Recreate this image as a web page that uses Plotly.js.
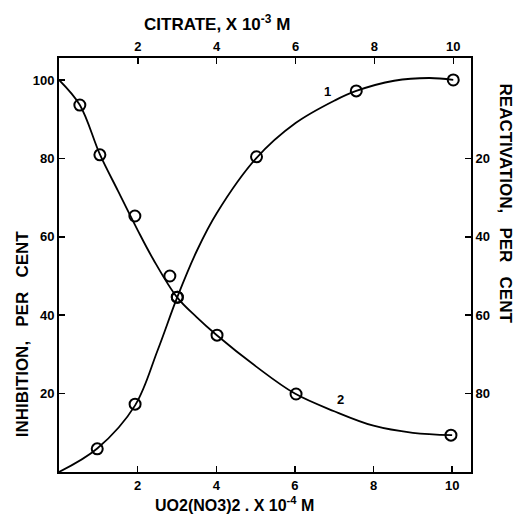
<!DOCTYPE html>
<html><head><meta charset="utf-8">
<script src="https://cdn.plot.ly/plotly-3.0.1.min.js"></script>
<style>html,body{margin:0;padding:0;background:#fff}</style>
</head><body>
<div id="chart" style="width:522px;height:516px"></div>
<script>
// Curve 2: inhibition vs UO2(NO3)2 (x10^-4 M), bottom axis
const uo2Points = [0.53, 1.04, 1.93, 2.82, 3.01, 4.02, 6.03, 9.97];
const inhibitionPoints = [93.6, 80.9, 65.3, 50.0, 44.6, 34.9, 19.9, 9.4];
const uo2Curve = [0, 0.53, 1.04, 1.5, 2.0, 2.4, 3.0, 3.5, 4.0, 5.0, 6.0, 7.0, 8.0, 9.0, 10.0];
const inhibitionCurve = [100, 93.6, 81, 71.7, 61.7, 54.2, 44.6, 39.5, 35, 27, 20, 15.5, 11.8, 10, 9.4];

// Curve 1: vs citrate (x10^-3 M), top axis
const citratePoints = [0.97, 1.93, 3.0, 5.01, 7.54, 10.0];
const curve1Points = [5.9, 17.3, 44.6, 80.4, 97.2, 100];
const citrateCurve = [0, 0.97, 1.93, 2.5, 3.0, 3.5, 4.0, 5.0, 6.0, 7.0, 7.54, 8.5, 9.4, 10.0];
const curve1Curve = [0, 6, 17, 31, 44.6, 56.5, 66, 80, 89, 94.8, 97.2, 99.8, 100.5, 100];

const xTicks = [2, 4, 6, 8, 10];
const leftTicks = [20, 40, 60, 80, 100];
const rightTicks = [20, 40, 60, 80];

const fontFam = 'Liberation Sans, Arial, sans-serif';
const lineStyle = {color: '#000', width: 1.8, shape: 'spline', smoothing: 1};
const markerStyle = {symbol: 'circle-open', size: 11, color: '#000', line: {width: 2, color: '#000'}};

const data = [
  {x: uo2Curve, y: inhibitionCurve, xaxis: 'x', yaxis: 'y', mode: 'lines', line: lineStyle, hoverinfo: 'skip'},
  {x: uo2Points, y: inhibitionPoints, xaxis: 'x', yaxis: 'y', mode: 'markers', marker: markerStyle},
  {x: citrateCurve, y: curve1Curve, xaxis: 'x2', yaxis: 'y', mode: 'lines', line: lineStyle, hoverinfo: 'skip'},
  {x: citratePoints, y: curve1Points, xaxis: 'x2', yaxis: 'y', mode: 'markers', marker: markerStyle},
  {x: [0], y: [50], xaxis: 'x', yaxis: 'y2', mode: 'markers', marker: {opacity: 0}, hoverinfo: 'skip'}
];

const tickFont = {family: fontFam, size: 13, color: '#000', weight: 'bold'};
const axisCommon = {
  showgrid: false, zeroline: false, showline: true, linecolor: '#000', linewidth: 2,
  ticks: 'inside', ticklen: 6, tickwidth: 1.5, tickcolor: '#000', tickfont: tickFont, fixedrange: true
};
const titleFont = {family: fontFam, size: 17, color: '#000', weight: 'bold'};

const layout = {
  width: 522, height: 516,
  margin: {l: 59, r: 51, t: 58, b: 44},
  paper_bgcolor: '#fff', plot_bgcolor: '#fff',
  showlegend: false,
  font: {family: fontFam, color: '#000'},
  xaxis: Object.assign({}, axisCommon, {range: [0, 10.48], tickmode: 'array', tickvals: xTicks, ticktext: xTicks.map(String)}),
  xaxis2: Object.assign({}, axisCommon, {range: [0, 10.45], overlaying: 'x', side: 'top', tickmode: 'array', tickvals: xTicks, ticktext: xTicks.map(String)}),
  yaxis: Object.assign({}, axisCommon, {range: [0, 105.6], tickmode: 'array', tickvals: leftTicks, ticktext: leftTicks.map(String)}),
  yaxis2: Object.assign({}, axisCommon, {range: [100, -5.6], overlaying: 'y', side: 'right', tickmode: 'array', tickvals: rightTicks, ticktext: rightTicks.map(String)}),
  annotations: [
    {text: 'CITRATE, X 10<sup>-3</sup> M', xref: 'paper', yref: 'paper', x: 0.383, y: 1.085, xanchor: 'center', yanchor: 'middle', showarrow: false, font: titleFont},
    {text: 'UO2(NO3)2 . X 10<sup>-4</sup> M', xref: 'paper', yref: 'paper', x: 0.427, y: -0.078, xanchor: 'center', yanchor: 'middle', showarrow: false, font: {family: fontFam, size: 16, color: '#000', weight: 'bold'}},
    {text: 'INHIBITION,   PER   CENT', xref: 'paper', yref: 'paper', x: -0.09, y: 0.335, xanchor: 'center', yanchor: 'middle', textangle: -90, showarrow: false, font: titleFont},
    {text: 'REACTIVATION,   PER   CENT', xref: 'paper', yref: 'paper', x: 1.083, y: 0.648, xanchor: 'center', yanchor: 'middle', textangle: 90, showarrow: false, font: titleFont},
    {text: '1', xref: 'x2', yref: 'y', x: 6.8, y: 97, showarrow: false, font: {family: fontFam, size: 13, color: '#000', weight: 'bold'}},
    {text: '2', xref: 'x', yref: 'y', x: 7.15, y: 18.4, showarrow: false, font: {family: fontFam, size: 13, color: '#000', weight: 'bold'}}
  ]
};

Plotly.newPlot('chart', data, layout, {staticPlot: true, displayModeBar: false});
</script>
</body></html>
